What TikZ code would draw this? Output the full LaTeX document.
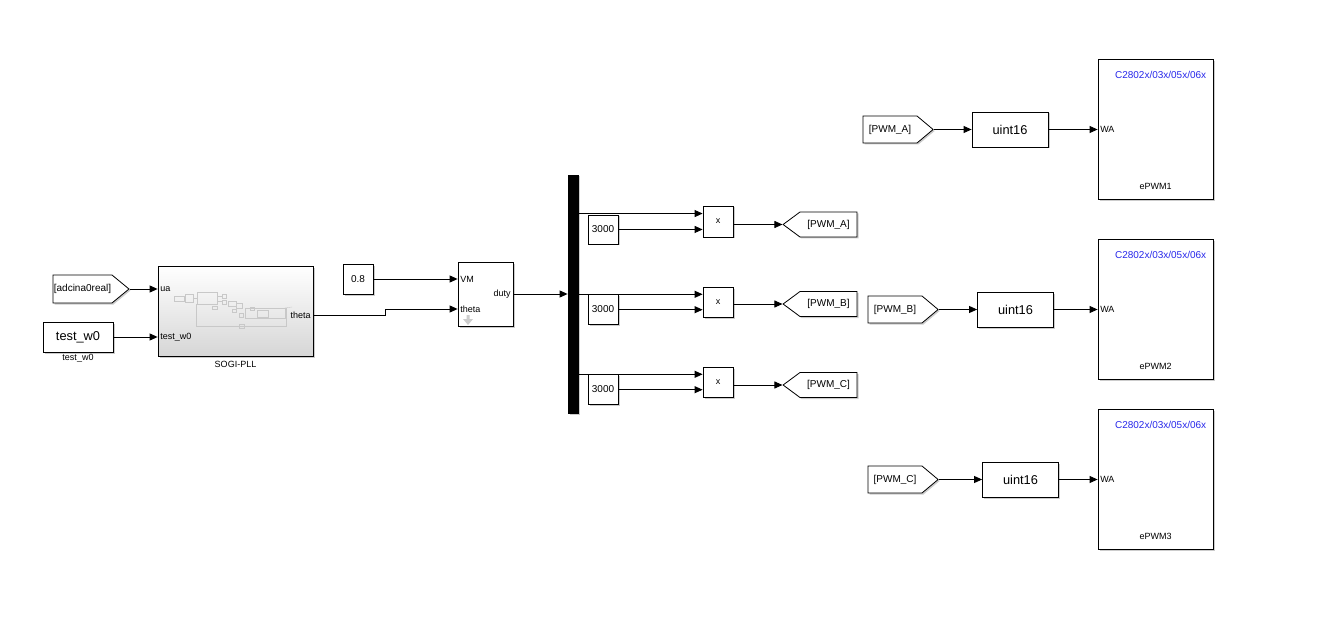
\documentclass[tikz,border=0pt]{standalone}
\usepackage{fontspec}
\setmainfont{Liberation Sans}
\usetikzlibrary{arrows.meta,positioning,calc,shapes.symbols,shadows}
\definecolor{tiblue}{RGB}{40,40,235}
\definecolor{iconline}{RGB}{200,200,200}

\tikzset{
  blk/.style={draw=black, line width=0.8pt, fill=white, inner sep=0pt,
    font=\fontsize{10}{12}\selectfont,
    drop shadow={shadow xshift=1.5pt, shadow yshift=-1.5pt, fill=black, opacity=0.2}},
  sig/.style={blk, shape=signal, signal pointer angle=#1, signal from=nowhere,
    align=center, inner xsep=0pt},
  wire/.style={line width=0.9pt, -{Triangle[length=8pt,width=7pt]}},
  port/.style={font=\fontsize{9}{10}\selectfont, inner xsep=2.5pt, inner ysep=1pt},
  tag/.style={font=\fontsize{9}{10}\selectfont, inner sep=0pt},
}

\begin{document}
\begin{tikzpicture}[x=1pt, y=-1pt]
\useasboundingbox[fill=white] (0,0) rectangle (1336,631);

% input side
\node[sig=79, signal to=east, text width=59pt, minimum height=28pt] (fadc) at (82.5,289) {[adcina0real]};
\node[blk, minimum width=70pt, minimum height=30pt, font=\fontsize{12.8}{14}\selectfont] (tw0) at (78,337) {test\_w0};
\node[tag, below=2pt of tw0] {test\_w0};

\node[blk, shade, top color=white, middle color=white, bottom color=black!16,
      minimum width=155pt, minimum height=90pt] (sogi) at (235.5,311) {};
\node[tag, below=5pt of sogi] {SOGI-PLL};
\begin{scope}[draw=iconline, line width=0.4pt]
  \draw (174,296) rectangle (184,301);
  \draw (185,294) rectangle (193,302);
  \draw (197,292) rectangle (217,304);
  \draw (193,298) -- (197,298);
  \draw (217,296) -- (222,296) (217,301) -- (222,301);
  \draw (222,294) rectangle (226,298);
  \draw (222,300) rectangle (226,304);
  \draw (228,301) rectangle (236,306);
  \draw (236,303) rectangle (242,308);
  \draw (212,306) rectangle (217,309);
  \draw (232,309) rectangle (236,312);
  \draw (239,313) rectangle (243,317);
  \draw (250,307) rectangle (254,310);
  \draw (196,304) -- (196,326) -- (286,326) -- (286,308);
  \draw (245,308) rectangle (285,318);
  \draw (257,310) rectangle (268,317);
  \draw (239,324) rectangle (244,328);
  \draw (285,308) -- (292,307);
\end{scope}
\node[port, anchor=west] (sua) at (sogi.west |- fadc.east) {ua};
\node[port, anchor=west] (stw) at (sogi.west |- tw0.east) {test\_w0};
\node[port, anchor=east] (sth) at ($(sogi.east)+(0,4)$) {theta};

\draw[wire] (fadc.east) -- (fadc.east -| sogi.west);
\draw[wire] (tw0.east) -- (tw0.east -| sogi.west);

% duty block
\node[blk, minimum width=30pt, minimum height=30pt] (c08) at (358,279) {0.8};
\node[blk, minimum width=55pt, minimum height=64pt] (vm) at (485.5,294) {};
\node[port, anchor=west] (vvm) at (vm.west |- c08.east) {VM};
\node[port, anchor=west] (vth) at ($(vm.west)+(0,15)$) {theta};
\node[port, anchor=east] (vdu) at (vm.east) {duty};
\fill[black!20] (466.5,315) -- (469.5,315) -- (469.5,319) -- (473,319)
  -- (468,325) -- (463,319) -- (466.5,319) -- cycle;

\coordinate (bend) at ($(sogi.east)!.5!(vm.west)$);
\draw[wire] (sogi.east |- sth) -- (bend |- sth) -- (bend |- vth) -- (vm.west |- vth);
\draw[wire] (c08.east) -- (c08.east -| vm.west);

% demux, gains and products
\node[blk, fill=black, minimum width=10pt, minimum height=238pt] (dmx) at (573,294) {};
\draw[wire] (vm.east) -- (dmx.west);

\node[blk, minimum width=30pt, minimum height=29pt] (k1) at (603,229.5) {3000};
\node[blk, minimum width=30pt, minimum height=30pt] (k2) at (603,309) {3000};
\node[blk, minimum width=30pt, minimum height=30pt] (k3) at (603,389) {3000};
\node[blk, minimum width=30pt, minimum height=31pt, font=\fontsize{9}{10}\selectfont] (p1) at (718,221.5) {x};
\node[blk, minimum width=30pt, minimum height=30pt, font=\fontsize{9}{10}\selectfont] (p2) at (718,302) {x};
\node[blk, minimum width=30pt, minimum height=30pt, font=\fontsize{9}{10}\selectfont] (p3) at (718,382) {x};

\foreach \p/\k in {p1/k1, p2/k2, p3/k3} {
  \coordinate (\p a) at ($(\p.north west)!.25!(\p.south west)$);
  \coordinate (\p b) at ($(\p.north west)!.75!(\p.south west)$);
  \draw[wire] (dmx.east |- \p a) -- (\p a);
  \draw[wire] (\k.east |- \p b) -- (\p b);
}

\node[sig=73, signal to=west, text width=57pt, minimum height=25pt] (ga) at (828.5,224.5) {[PWM\_A]};
\node[sig=73, signal to=west, text width=57pt, minimum height=25pt] (gb) at (828.5,304) {[PWM\_B]};
\node[sig=73, signal to=west, text width=57pt, minimum height=25pt] (gc) at (828.5,385) {[PWM\_C]};
\draw[wire] (p1.east |- ga.west) -- (ga.west);
\draw[wire] (p2.east |- gb.west) -- (gb.west);
\draw[wire] (p3.east |- gc.west) -- (gc.west);

% ePWM outputs
\foreach \n/\cx/\vx/\y in {A/890/1010/129.5, B/895/1015.5/309.5, C/895/1020.5/479.5} {
  \node[sig=80, signal to=east, text width=54pt, minimum height=27pt] (f\n) at (\cx,\y) {[PWM\_\n]};
  \node[blk, minimum width=76pt, minimum height=35pt, font=\fontsize{12.8}{14}\selectfont] (cv\n) at (\vx,\y) {uint16};
  \node[blk, minimum width=115pt, minimum height=140pt] (pwm\n) at (1155.5,\y) {};
  \node[port, anchor=west] (wa\n) at (pwm\n.west) {WA};
  \node[tag, text=tiblue, font=\fontsize{10}{12}\selectfont, below left=11.5pt and 7pt of pwm\n.north east] {C2802x/03x/05x/06x};
  \draw[wire] (f\n.east) -- (f\n.east -| cv\n.west);
  \draw[wire] (cv\n.east) -- (cv\n.east -| pwm\n.west);
}
\node[tag, above=10pt of pwmA.south] {ePWM1};
\node[tag, above=10pt of pwmB.south] {ePWM2};
\node[tag, above=10pt of pwmC.south] {ePWM3};
\end{tikzpicture}
\end{document}
